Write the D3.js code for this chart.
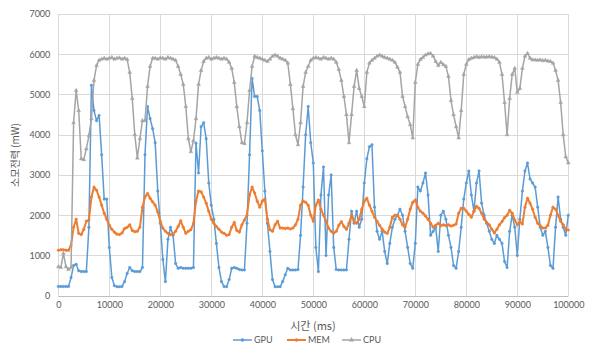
<!DOCTYPE html>
<html><head><meta charset="utf-8">
<script src="https://cdn.jsdelivr.net/npm/d3@7"></script>
<style>
html,body{margin:0;padding:0;background:#fff;}
svg{display:block;}
</style></head>
<body>
<svg id="chart" width="589" height="349"></svg>
<script>
// ---- data (sampled every 500 ms) ----
const timeStep = 500;
const times = d3.range(0, 100001, timeStep);
const xTicks = [0,10000,20000,30000,40000,50000,60000,70000,80000,90000,100000];
const yTicks = [0,1000,2000,3000,4000,5000,6000,7000];
const seriesNames = ["GPU","MEM","CPU"];
const seriesColors = ["#5B9BD5","#ED7D31","#A5A5A5"];

const gpu = [
230,230,230,230,230,450,750,780,620,600,
600,600,1700,5230,4600,4350,4480,3500,2400,2400,
1200,450,250,225,225,230,350,550,700,620,
600,600,600,700,3500,4700,4400,4150,3800,2600,
1800,900,350,1400,1700,1500,800,680,700,680,
680,680,680,700,3790,3050,4200,4300,3900,2800,
2250,1900,1300,700,350,230,225,400,680,700,
680,650,640,640,1800,3500,5400,4950,4950,4600,
3600,2600,1800,1100,400,225,225,225,350,520,
680,640,640,640,650,1500,2700,4000,4700,3800,
3300,1200,600,2500,3200,1000,2500,3000,1200,650,
640,640,640,640,1400,2100,1800,2100,1700,1900,
2800,3400,3700,3750,2200,1600,1400,1600,1100,800,
1300,1700,1900,2000,2150,2000,1600,1200,800,680,
1300,2700,2600,2800,3050,2500,1500,1600,1700,1100,
2000,2100,1900,1500,1200,750,680,1100,1700,2400,
2800,3100,2500,2100,2800,3100,2300,2000,1800,1600,
1400,1300,1500,1400,1300,850,700,1600,2000,1700,
1000,1900,2600,3100,3300,2900,2800,2700,2200,1700,
1500,1600,1200,750,680,1700,2450,1900,1700,1500,
2000];

const mem = [
1130,1140,1140,1130,1130,1250,1700,1900,1550,1520,
1650,1850,1880,2450,2700,2620,2450,2250,2050,1900,
1750,1650,1580,1530,1520,1560,1670,1700,1760,1620,
1590,1600,1700,2200,2450,2540,2420,2330,2250,2080,
1850,1680,1600,1550,1520,1530,1600,1720,1860,1700,
1550,1600,1640,1800,2350,2600,2580,2450,2300,2100,
1900,1800,1720,1650,1580,1550,1500,1520,1700,1820,
1620,1580,1760,1880,2000,2500,2700,2550,2350,2200,
2350,2400,1900,1640,1600,1760,1850,1680,1680,1670,
1680,1660,1680,1760,1900,2250,2350,2320,2250,2000,
1850,2250,2380,2150,2000,1850,1680,1600,1550,1600,
1750,1840,1720,1650,1800,2000,1850,1800,1900,2150,
2350,2420,2250,2100,1950,1850,1750,1650,1580,1550,
1700,1950,2000,2000,1900,1760,1700,1900,2150,2320,
2380,2200,2100,2050,1980,1900,1800,1700,1750,1800,
1740,1760,1740,1760,1730,1750,1780,2050,2170,2170,
2100,2020,1950,2100,2220,2170,2050,1900,1820,1760,
1650,1560,1650,1760,1840,1940,2000,2120,2050,1880,
1760,1840,1780,2200,2420,2300,2150,1950,1800,1740,
1680,1680,1750,2000,2200,2150,2000,1850,1760,1650,
1630];

const cpu = [
720,700,1050,720,650,700,4300,5100,4600,3400,
3380,3650,3980,4400,5350,5720,5850,5880,5900,5880,
5900,5920,5880,5900,5910,5880,5900,5870,5550,4900,
4000,3420,3900,4350,4350,5200,5700,5900,5900,5880,
5910,5900,5880,5920,5900,5880,5850,5700,5500,5250,
4700,3900,3580,3850,4400,5250,5600,5820,5900,5920,
5880,5900,5920,5900,5880,5900,5880,5800,5650,5300,
4700,4200,3800,3780,4300,5100,5700,5950,5920,5900,
5880,5850,5820,5880,5950,5980,5950,5900,5880,5850,
5780,5250,4650,4000,3750,4300,5200,5550,5700,5850,
5900,5920,5900,5880,5920,5900,5880,5900,5880,5800,
5620,5350,4950,4500,3800,4500,5200,5600,5150,4950,
4700,5550,5780,5850,5900,5950,5980,5950,5920,5900,
5880,5850,5800,5680,5550,4950,4700,4450,4250,3920,
5300,5750,5870,5920,5980,6010,6020,5950,5820,5720,
5800,5740,5700,5450,4850,4500,4200,3920,4600,5500,
5750,5870,5900,5920,5940,5920,5940,5930,5930,5940,
5930,5920,5880,5800,5500,4800,4000,4900,5500,5650,
5050,5150,5650,5950,6020,5900,5860,5860,5850,5860,
5840,5850,5830,5820,5780,5600,5350,4800,4000,3450,
3300];

const seriesValues = [gpu, mem, cpu];

// ---- chart ----
const svg = d3.select("#chart");
const margin = {left: 58.3, right: 589 - 568.3, top: 14, bottom: 349 - 295.7};
const W = 589, H = 349;
const x = d3.scaleLinear().domain([0, 100000]).range([margin.left, W - margin.right]);
const y = d3.scaleLinear().domain([0, 7000]).range([H - margin.bottom, margin.top]);

const numFont = "Lato, 'Liberation Sans', sans-serif";
const krFont = "'Noto Sans CJK KR', 'Noto Sans', sans-serif";

// gridlines
svg.append("g").selectAll("line").data(yTicks).join("line")
  .attr("x1", x(0)).attr("x2", x(100000))
  .attr("y1", d => Math.round(y(d)) + 0.5).attr("y2", d => Math.round(y(d)) + 0.5)
  .attr("stroke", d => d === 0 ? "#BFBFBF" : "#D9D9D9").attr("stroke-width", 1);
svg.append("g").selectAll("line").data(xTicks).join("line")
  .attr("y1", y(0)).attr("y2", y(7000))
  .attr("x1", d => Math.round(x(d)) + 0.5).attr("x2", d => Math.round(x(d)) + 0.5)
  .attr("stroke", "#D9D9D9").attr("stroke-width", 1);

// axes (text only, via d3 axis)
const yAxis = svg.append("g").attr("transform", `translate(${x(0)},0)`)
  .call(d3.axisLeft(y).tickValues(yTicks).tickSize(0).tickPadding(8).tickFormat(d3.format("d")));
yAxis.select(".domain").remove();
yAxis.selectAll("text").attr("font-family", numFont).attr("font-size", 9).attr("fill", "#595959");

const xAxis = svg.append("g").attr("transform", `translate(0,${y(0)})`)
  .call(d3.axisBottom(x).tickValues(xTicks).tickSize(0).tickPadding(6).tickFormat(d3.format("d")));
xAxis.select(".domain").remove();
xAxis.selectAll("text").attr("font-family", numFont).attr("font-size", 9).attr("fill", "#595959");

// axis titles
svg.append("text").attr("x", 313).attr("y", 330).attr("text-anchor", "middle")
  .attr("font-family", krFont).attr("font-size", 11).attr("fill", "#595959").text("시간 (ms)");
svg.append("text").attr("transform", "translate(19,155) rotate(-90)").attr("text-anchor", "middle")
  .attr("font-family", krFont).attr("font-size", 10).attr("fill", "#595959").text("소모전력 (mW)");

// series
const symbols = [d3.symbolCircle, d3.symbolCircle, d3.symbolTriangle];
const symSizes = [5, 5, 6];
const lineWidths = [1.5, 2, 1.5];
seriesNames.forEach((name, i) => {
  const vals = seriesValues[i];
  const pts = times.map((t, j) => [t, vals[j]]);
  const line = d3.line().x(d => x(d[0])).y(d => y(d[1]));
  const g = svg.append("g");
  g.append("path").attr("d", line(pts)).attr("fill", "none")
    .attr("stroke", seriesColors[i]).attr("stroke-width", lineWidths[i]).attr("stroke-linejoin", "round");
  g.selectAll("path.m").data(pts).join("path").attr("class", "m")
    .attr("transform", d => `translate(${x(d[0])},${y(d[1])})`)
    .attr("d", d3.symbol().type(symbols[i]).size(symSizes[i]))
    .attr("fill", seriesColors[i]).attr("stroke", seriesColors[i]).attr("stroke-width", 0.5);
});

// legend
const legendX = [233, 287, 342];
const leg = svg.append("g");
seriesNames.forEach((name, i) => {
  const g = leg.append("g").attr("transform", `translate(${legendX[i]},340)`);
  g.append("line").attr("x1", 0).attr("x2", 19).attr("y1", 0).attr("y2", 0)
    .attr("stroke", seriesColors[i]).attr("stroke-width", lineWidths[i]);
  g.append("path").attr("transform", "translate(9.5,0)")
    .attr("d", d3.symbol().type(symbols[i]).size(symSizes[i] + 5)).attr("fill", seriesColors[i]);
  g.append("text").attr("x", 21).attr("y", 3.2).attr("font-family", numFont)
    .attr("font-size", 9).attr("fill", "#595959").text(name);
});
</script>
</body></html>
